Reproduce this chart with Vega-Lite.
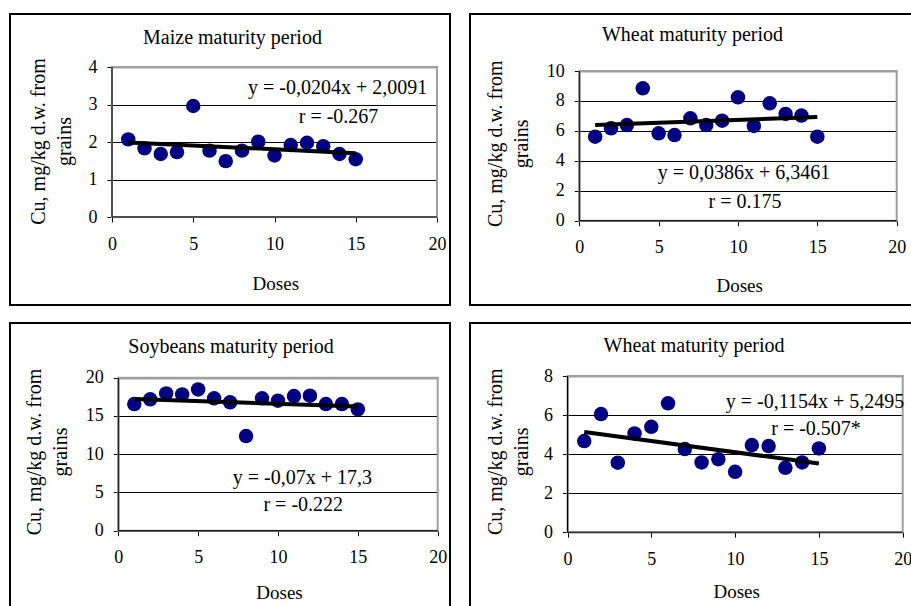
{
  "$schema": "https://vega.github.io/schema/vega-lite/v6.json",
  "background": "white",
  "padding": {"left": 9, "top": 13, "right": -6, "bottom": -8},
  "columns": 2,
  "spacing": {"row": 18, "column": 20},
  "bounds": "flush",
  "concat": [
    {
      "width": 440, "height": 291,
      "encoding": {
        "x": {"field": "dose", "type": "quantitative",
          "scale": {"domain": [0, 20], "range": [102, 427], "nice": false, "zero": false},
          "axis": {"values": [0, 5, 10, 15, 20], "offset": -88, "title": "Doses", "titleX": 265.3, "titleY": 66, "grid": false}},
        "y": {"field": "cu", "type": "quantitative",
          "scale": {"domain": [0, 4], "range": [203, 53], "nice": false, "zero": false},
          "axis": {"values": [0, 1, 2, 3, 4], "offset": -102, "title": ["Cu, mg/kg d.w. from", "grains"], "titleX": -74, "titleY": 127,
            "grid": true,
            "gridColor": {"condition": {"test": "datum.value === 4", "value": "#a0a0a0"}, "value": "black"},
            "gridWidth": {"condition": {"test": "datum.value === 4", "value": 2}, "value": 1}}}
      },
      "layer": [
        {"data": {"values": [{"dose": 0, "dose_end": 20, "cu": 0, "cu_top": 4}]},
         "mark": {"type": "rect", "fill": null, "fillOpacity": 0, "stroke": "#a0a0a0", "strokeWidth": 2},
         "encoding": {"x2": {"field": "dose_end"}, "y2": {"field": "cu_top"}}},
        {"data": {"values": [{"dose": 0, "cu": 4}, {"dose": 0, "cu": 0}, {"dose": 20, "cu": 0}]},
         "mark": {"type": "line", "color": "black", "strokeWidth": 1, "interpolate": "linear"},
         "encoding": {"order": {"field": "cu", "sort": "descending"}}},
        {"data": {"values": [
          {"dose": 1, "cu": 2.07}, {"dose": 2, "cu": 1.83}, {"dose": 3, "cu": 1.68}, {"dose": 4, "cu": 1.73},
          {"dose": 5, "cu": 2.96}, {"dose": 6, "cu": 1.77}, {"dose": 7, "cu": 1.49}, {"dose": 8, "cu": 1.77},
          {"dose": 9, "cu": 2.01}, {"dose": 10, "cu": 1.64}, {"dose": 11, "cu": 1.92}, {"dose": 12, "cu": 1.98},
          {"dose": 13, "cu": 1.89}, {"dose": 14, "cu": 1.68}, {"dose": 15, "cu": 1.54}]},
         "mark": {"type": "circle", "size": 210, "opacity": 1, "color": "#000080"}},
        {"data": {"values": [{"dose": 1, "cu": 1.9887}, {"dose": 15, "cu": 1.7031}]},
         "mark": {"type": "line", "color": "black", "strokeWidth": 4, "strokeCap": "butt"}},
        {"data": {"values": [
          {"dose": 7.415, "cu": 4.781, "label": "Maize maturity period"},
          {"dose": 13.88, "cu": 3.44, "label": "y = -0,0204x + 2,0091"},
          {"dose": 13.94, "cu": 2.667, "label": "r = -0.267"}]},
         "mark": {"type": "text", "font": "Liberation Serif", "fontSize": 20, "color": "black", "align": "center", "baseline": "middle"},
         "encoding": {"text": {"field": "label"}}}
      ]
    },
    {
      "width": 446, "height": 291,
      "encoding": {
        "x": {"field": "dose", "type": "quantitative",
          "scale": {"domain": [0, 20], "range": [109.3, 426.7], "nice": false, "zero": false},
          "axis": {"values": [0, 5, 10, 15, 20], "offset": -84.3, "title": "Doses", "titleX": 269.2, "titleY": 64.3, "grid": false}},
        "y": {"field": "cu", "type": "quantitative",
          "scale": {"domain": [0, 10], "range": [206.7, 57], "nice": false, "zero": false},
          "axis": {"values": [0, 2, 4, 6, 8, 10], "offset": -109.3, "title": ["Cu, mg/kg d.w. from", "grains"], "titleX": -84, "titleY": 129.3,
            "grid": true,
            "gridColor": {"condition": {"test": "datum.value === 10", "value": "#a0a0a0"}, "value": "black"},
            "gridWidth": {"condition": {"test": "datum.value === 10", "value": 2}, "value": 1}}}
      },
      "layer": [
        {"data": {"values": [{"dose": 0, "dose_end": 20, "cu": 0, "cu_top": 10}]},
         "mark": {"type": "rect", "fill": null, "fillOpacity": 0, "stroke": "#a0a0a0", "strokeWidth": 2},
         "encoding": {"x2": {"field": "dose_end"}, "y2": {"field": "cu_top"}}},
        {"data": {"values": [{"dose": 0, "cu": 10}, {"dose": 0, "cu": 0}, {"dose": 20, "cu": 0}]},
         "mark": {"type": "line", "color": "black", "strokeWidth": 1, "interpolate": "linear"},
         "encoding": {"order": {"field": "cu", "sort": "descending"}}},
        {"data": {"values": [
          {"dose": 1, "cu": 5.61}, {"dose": 2, "cu": 6.17}, {"dose": 3, "cu": 6.39}, {"dose": 4, "cu": 8.84},
          {"dose": 5, "cu": 5.84}, {"dose": 6, "cu": 5.72}, {"dose": 7, "cu": 6.84}, {"dose": 8, "cu": 6.39},
          {"dose": 9, "cu": 6.68}, {"dose": 10, "cu": 8.24}, {"dose": 11, "cu": 6.33}, {"dose": 12, "cu": 7.84},
          {"dose": 13, "cu": 7.13}, {"dose": 14, "cu": 7.02}, {"dose": 15, "cu": 5.61}]},
         "mark": {"type": "circle", "size": 210, "opacity": 1, "color": "#000080"}},
        {"data": {"values": [{"dose": 1, "cu": 6.3847}, {"dose": 15, "cu": 6.9251}]},
         "mark": {"type": "line", "color": "black", "strokeWidth": 4, "strokeCap": "butt"}},
        {"data": {"values": [
          {"dose": 7.13, "cu": 12.405, "label": "Wheat maturity period"},
          {"dose": 10.38, "cu": 3.17, "label": "y = 0,0386x + 6,3461"},
          {"dose": 10.44, "cu": 1.27, "label": "r = 0.175"}]},
         "mark": {"type": "text", "font": "Liberation Serif", "fontSize": 20, "color": "black", "align": "center", "baseline": "middle"},
         "encoding": {"text": {"field": "label"}}}
      ]
    },
    {
      "width": 440, "height": 290,
      "encoding": {
        "x": {"field": "dose", "type": "quantitative",
          "scale": {"domain": [0, 20], "range": [108.3, 427.7], "nice": false, "zero": false},
          "axis": {"values": [0, 5, 10, 15, 20], "offset": -82.3, "title": "Doses", "titleX": 269, "titleY": 61.6, "grid": false}},
        "y": {"field": "cu", "type": "quantitative",
          "scale": {"domain": [0, 20], "range": [207.7, 54.7], "nice": false, "zero": false},
          "axis": {"values": [0, 5, 10, 15, 20], "offset": -108.3, "title": ["Cu, mg/kg d.w. from", "grains"], "titleX": -84, "titleY": 128.5,
            "grid": true,
            "gridColor": {"condition": {"test": "datum.value === 20", "value": "#a0a0a0"}, "value": "black"},
            "gridWidth": {"condition": {"test": "datum.value === 20", "value": 2}, "value": 1}}}
      },
      "layer": [
        {"data": {"values": [{"dose": 0, "dose_end": 20, "cu": 0, "cu_top": 20}]},
         "mark": {"type": "rect", "fill": null, "fillOpacity": 0, "stroke": "#a0a0a0", "strokeWidth": 2},
         "encoding": {"x2": {"field": "dose_end"}, "y2": {"field": "cu_top"}}},
        {"data": {"values": [{"dose": 0, "cu": 20}, {"dose": 0, "cu": 0}, {"dose": 20, "cu": 0}]},
         "mark": {"type": "line", "color": "black", "strokeWidth": 1, "interpolate": "linear"},
         "encoding": {"order": {"field": "cu", "sort": "descending"}}},
        {"data": {"values": [
          {"dose": 1, "cu": 16.56}, {"dose": 2, "cu": 17.17}, {"dose": 3, "cu": 17.95}, {"dose": 4, "cu": 17.82},
          {"dose": 5, "cu": 18.47}, {"dose": 6, "cu": 17.3}, {"dose": 7, "cu": 16.78}, {"dose": 8, "cu": 12.37},
          {"dose": 9, "cu": 17.3}, {"dose": 10, "cu": 17.0}, {"dose": 11, "cu": 17.6}, {"dose": 12, "cu": 17.65},
          {"dose": 13, "cu": 16.56}, {"dose": 14, "cu": 16.56}, {"dose": 15, "cu": 15.86}]},
         "mark": {"type": "circle", "size": 210, "opacity": 1, "color": "#000080"}},
        {"data": {"values": [{"dose": 1, "cu": 17.23}, {"dose": 15, "cu": 16.25}]},
         "mark": {"type": "line", "color": "black", "strokeWidth": 4, "strokeCap": "butt"}},
        {"data": {"values": [
          {"dose": 7.06, "cu": 24.05, "label": "Soybeans maturity period"},
          {"dose": 11.53, "cu": 6.93, "label": "y = -0,07x + 17,3"},
          {"dose": 11.58, "cu": 3.36, "label": "r = -0.222"}]},
         "mark": {"type": "text", "font": "Liberation Serif", "fontSize": 20, "color": "black", "align": "center", "baseline": "middle"},
         "encoding": {"text": {"field": "label"}}}
      ]
    },
    {
      "width": 446, "height": 290,
      "encoding": {
        "x": {"field": "dose", "type": "quantitative",
          "scale": {"domain": [0, 20], "range": [97.5, 432.7], "nice": false, "zero": false},
          "axis": {"values": [0, 5, 10, 15, 20], "offset": -80.8, "title": "Doses", "titleX": 266.2, "titleY": 59.5, "grid": false}},
        "y": {"field": "cu", "type": "quantitative",
          "scale": {"domain": [0, 8], "range": [209.2, 53], "nice": false, "zero": false},
          "axis": {"values": [0, 2, 4, 6, 8], "offset": -97.5, "title": ["Cu, mg/kg d.w. from", "grains"], "titleX": -72.5, "titleY": 128.3,
            "grid": true,
            "gridColor": {"condition": {"test": "datum.value === 8", "value": "#a0a0a0"}, "value": "black"},
            "gridWidth": {"condition": {"test": "datum.value === 8", "value": 2}, "value": 1}}}
      },
      "layer": [
        {"data": {"values": [{"dose": 0, "dose_end": 20, "cu": 0, "cu_top": 8}]},
         "mark": {"type": "rect", "fill": null, "fillOpacity": 0, "stroke": "#a0a0a0", "strokeWidth": 2},
         "encoding": {"x2": {"field": "dose_end"}, "y2": {"field": "cu_top"}}},
        {"data": {"values": [{"dose": 0, "cu": 8}, {"dose": 0, "cu": 0}, {"dose": 20, "cu": 0}]},
         "mark": {"type": "line", "color": "black", "strokeWidth": 1, "interpolate": "linear"},
         "encoding": {"order": {"field": "cu", "sort": "descending"}}},
        {"data": {"values": [
          {"dose": 1, "cu": 4.67}, {"dose": 2, "cu": 6.05}, {"dose": 3, "cu": 3.56}, {"dose": 4, "cu": 5.06},
          {"dose": 5, "cu": 5.4}, {"dose": 6, "cu": 6.6}, {"dose": 7, "cu": 4.26}, {"dose": 8, "cu": 3.57},
          {"dose": 9, "cu": 3.74}, {"dose": 10, "cu": 3.09}, {"dose": 11, "cu": 4.46}, {"dose": 12, "cu": 4.41},
          {"dose": 13, "cu": 3.3}, {"dose": 14, "cu": 3.57}, {"dose": 15, "cu": 4.29}]},
         "mark": {"type": "circle", "size": 210, "opacity": 1, "color": "#000080"}},
        {"data": {"values": [{"dose": 1, "cu": 5.1341}, {"dose": 15, "cu": 3.5185}]},
         "mark": {"type": "line", "color": "black", "strokeWidth": 4, "strokeCap": "butt"}},
        {"data": {"values": [
          {"dose": 7.55, "cu": 9.55, "label": "Wheat maturity period"},
          {"dose": 14.77, "cu": 6.68, "label": "y = -0,1154x + 5,2495"},
          {"dose": 14.83, "cu": 5.29, "label": "r = -0.507*"}]},
         "mark": {"type": "text", "font": "Liberation Serif", "fontSize": 20, "color": "black", "align": "center", "baseline": "middle"},
         "encoding": {"text": {"field": "label"}}}
      ]
    }
  ],
  "config": {
    "view": {"stroke": "black", "strokeWidth": 2},
    "font": "Liberation Serif",
    "axis": {
      "labelFont": "Liberation Serif", "labelFontSize": 18, "labelColor": "black",
      "titleFont": "Liberation Serif", "titleFontSize": 19, "titleFontWeight": "normal", "titleColor": "black",
      "titleAlign": "center", "titleBaseline": "middle",
      "domainColor": "black", "domainWidth": 1,
      "tickColor": "black", "tickSize": 5, "tickWidth": 1,
      "labelFlush": false, "labelOverlap": false
    },
    "axisX": {"labelPadding": 22, "labelBaseline": "middle", "titleAngle": 0},
    "axisY": {"labelPadding": 10, "labelBaseline": "middle", "labelAlign": "right", "titleAngle": -90, "titleLineHeight": 26, "titleFontSize": 20}
  }
}
